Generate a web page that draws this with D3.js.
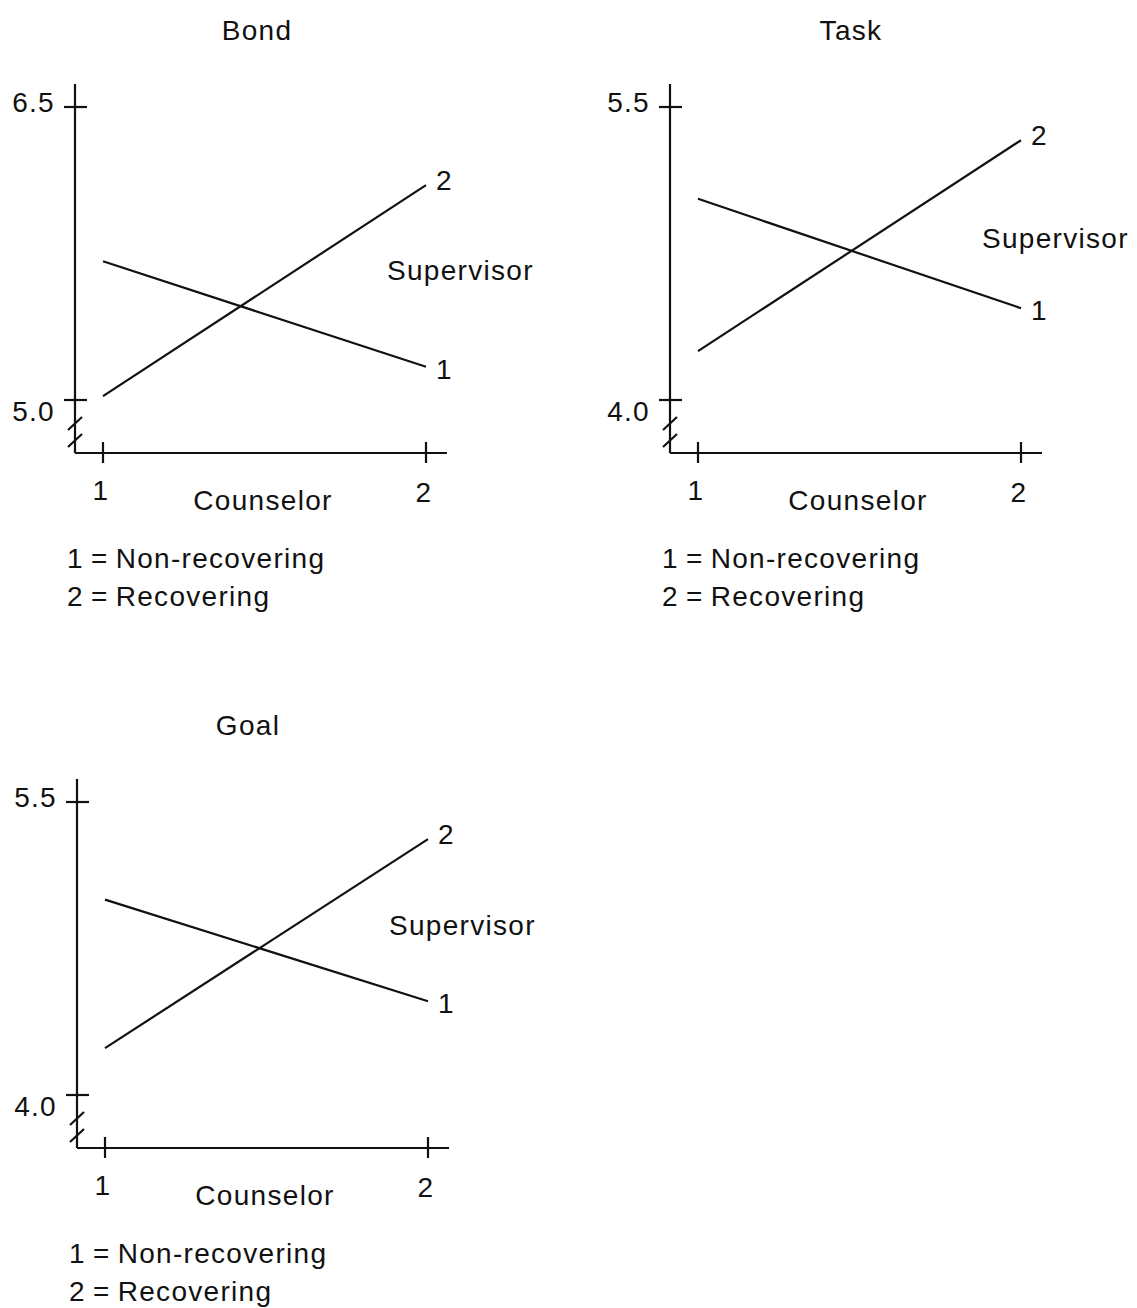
<!DOCTYPE html>
<html>
<head>
<meta charset="utf-8">
<script src="https://cdn.jsdelivr.net/npm/d3@7"></script>
<style>
  html, body { margin: 0; padding: 0; background: #fff; }
  svg text { font-family: "Liberation Sans", Arial, Helvetica, sans-serif; font-size: 28px; letter-spacing: 1.3px; word-spacing: -2px; fill: #111; }
</style>
</head>
<body>
<svg id="chart" width="1137" height="1308"></svg>
<script>
// values
const panelNames = ['Bond', 'Task', 'Goal'];
const yTicks = [[5.0, 6.5], [4.0, 5.5], [4.0, 5.5]];
const counselorLevels = [1, 2];
const supervisorNonRecovering = [[5.71, 5.17], [5.03, 4.47], [5.00, 4.48]];
const supervisorRecovering = [[5.02, 6.10], [4.25, 5.33], [4.24, 5.31]];
const legendLines = ['1 = Non-recovering', '2 = Recovering'];

// where each panel sits on the page
const layout = [
  {dx: 0, dy: 0, titleX: 257, supY: 270},
  {dx: 595, dy: 0, titleX: 256, supY: 238},
  {dx: 2, dy: 695, titleX: 246, supY: 230},
];

const axisX = 75, axisTop = 84, axisBottom = 453, xEnd = 447;
const ink = '#111';
const lw = 2.2;

const svg = d3.select('#chart');

panelNames.forEach((name, i) => {
  const g = svg.append('g').attr('transform', `translate(${layout[i].dx},${layout[i].dy})`);

  const x = d3.scaleLinear().domain([1, 2]).range([103, 426]);
  const y = d3.scaleLinear().domain(yTicks[i]).range([400, 107]);

  // title
  g.append('text').attr('x', layout[i].titleX).attr('y', 40).attr('text-anchor', 'middle').text(name);

  // axes lines
  g.append('line').attr('x1', axisX).attr('x2', axisX).attr('y1', axisTop).attr('y2', axisBottom)
    .attr('stroke', ink).attr('stroke-width', lw);
  g.append('line').attr('x1', axisX).attr('x2', xEnd).attr('y1', axisBottom).attr('y2', axisBottom)
    .attr('stroke', ink).attr('stroke-width', lw);

  // y labels through d3 axis, crossing ticks drawn by hand
  const yAxis = g.append('g').attr('transform', `translate(${axisX},0)`)
    .call(d3.axisLeft(y).tickValues(yTicks[i]).tickFormat(d3.format('.1f')).tickSize(0).tickPadding(20));
  yAxis.select('.domain').remove();
  yAxis.selectAll('text').attr('fill', ink).style('font-size', '28px')
    .attr('dy', (d, j) => (j === 0 ? '0.72em' : '0.15em'));

  g.selectAll('.ytick').data(yTicks[i]).join('line').attr('class', 'ytick')
    .attr('x1', axisX - 11).attr('x2', axisX + 12)
    .attr('y1', (d) => y(d)).attr('y2', (d) => y(d))
    .attr('stroke', ink).attr('stroke-width', lw);

  // axis break slashes
  [423, 440].forEach((by) => {
    g.append('line').attr('x1', axisX - 7).attr('y1', by + 7).attr('x2', axisX + 7).attr('y2', by - 6)
      .attr('stroke', ink).attr('stroke-width', lw);
  });

  // x ticks and labels
  g.selectAll('.xtick').data(counselorLevels).join('line').attr('class', 'xtick')
    .attr('x1', (d) => x(d)).attr('x2', (d) => x(d))
    .attr('y1', axisBottom - 11).attr('y2', axisBottom + 10)
    .attr('stroke', ink).attr('stroke-width', lw);
  g.selectAll('.xlab').data(counselorLevels).join('text').attr('class', 'xlab')
    .attr('x', (d) => x(d) - 2).attr('y', (d, j) => (j === 0 ? 500 : 502))
    .attr('text-anchor', 'middle').text((d) => d);

  g.append('text').attr('x', 263).attr('y', 510).attr('text-anchor', 'middle').text('Counselor');

  // supervisor lines
  const series = [supervisorNonRecovering[i], supervisorRecovering[i]];
  const line = d3.line().x((d, j) => x(counselorLevels[j])).y((d) => y(d));
  series.forEach((vals, s) => {
    g.append('path').attr('d', line(vals)).attr('fill', 'none').attr('stroke', ink).attr('stroke-width', lw);
    g.append('text').attr('x', x(2) + 10).attr('y', y(vals[1]) + (s === 0 ? 2 : -5))
      .attr('dy', '0.36em').text(s + 1);
  });
  g.append('text').attr('x', 387).attr('y', layout[i].supY).attr('dy', '0.36em').text('Supervisor');

  // legend
  legendLines.forEach((t, k) => {
    g.append('text').attr('x', 67).attr('y', 568 + k * 38).text(t);
  });
});
</script>
</body>
</html>
